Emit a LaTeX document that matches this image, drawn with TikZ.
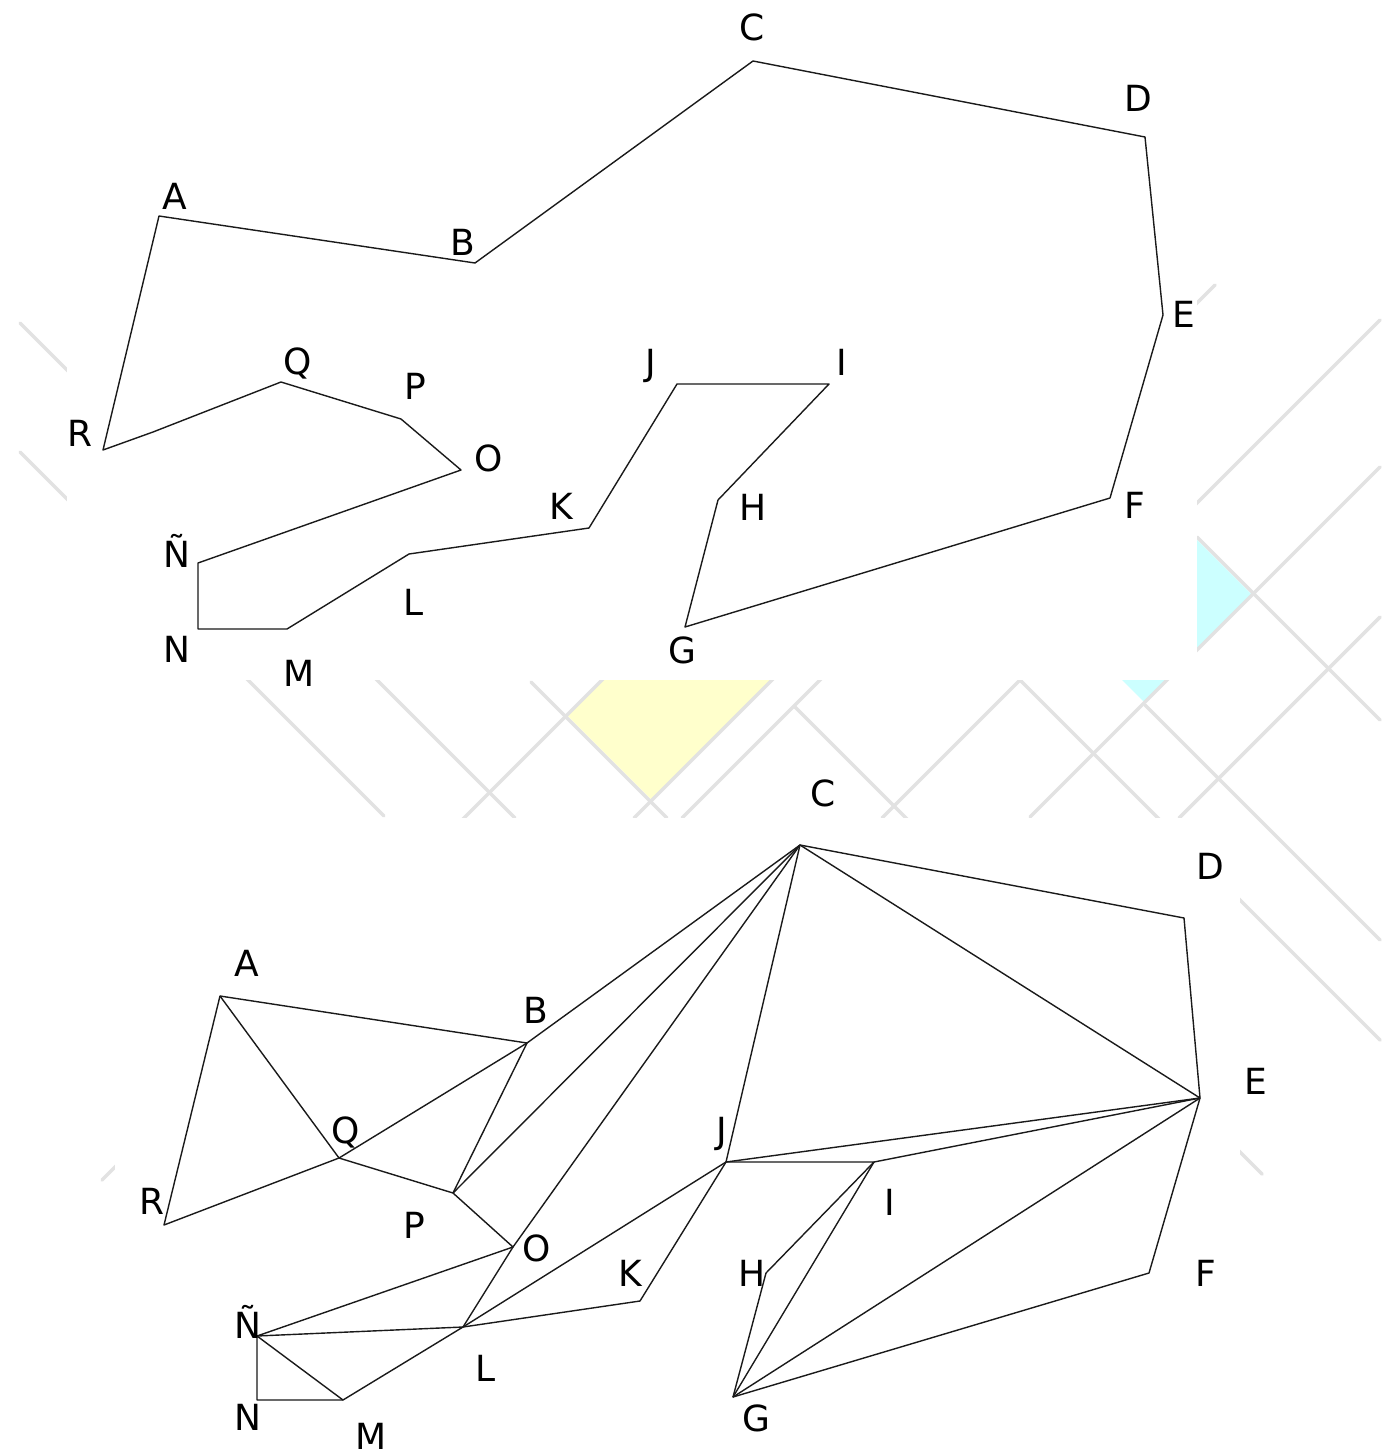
\documentclass[tikz,border=0pt]{standalone}
\usepackage{fontspec}
\setmainfont{DejaVu Sans}
\newfontfamily\lblfam{DejaVu Sans}
\newcommand{\lblfont}{\lblfam\fontsize{36}{40}\selectfont}
\definecolor{bgyel}{HTML}{FFFFCC}
\definecolor{bgcyan}{HTML}{CCFFFF}
\definecolor{bggray}{HTML}{E2E2E2}
\definecolor{inkc}{HTML}{1A1A1A}
\tikzset{
  lbl/.style={font=\lblfont, inner sep=0pt, text height=26pt, text depth=0pt},
  poly/.style={line width=1.4pt, draw=inkc, line join=round},
  bgline/.style={line width=3.5pt, draw=bggray, line cap=round},
  panel/.style={fill=white, draw=none}
}
\begin{document}
\begin{tikzpicture}[x=1pt,y=-1pt]
\useasboundingbox (0,0) rectangle (1397,1456);
\fill[white] (0,0) rectangle (1397,1456);
% background colour patches
\fill[bgcyan] (1252,595) -- (1144.5,702.5) -- (1021,579) -- (1128.5,471.5) -- cycle;
\fill[bgyel] (567,715) -- (652,800) -- (826,626) -- (741,541) -- cycle;
% background lattice lines (x-y = const)
\draw[bgline] (20,452) -- (384,816);
\draw[bgline] (20,323) -- (515,818);
\draw[bgline] (531,682) -- (667,818);
\draw[bgline] (795,707) -- (1262,1174);
\draw[bgline] (1020,680) -- (1380,1040);
\draw[bgline] (1145,705) -- (1380,940);
\draw[bgline] (1197,537) -- (1380,720);
% background lattice lines (x+y = const)
\draw[bgline] (610,672) -- (102,1180);
\draw[bgline] (780,672) -- (634,818);
\draw[bgline] (1215,285) -- (682,818);
\draw[bgline] (1380,320) -- (882,818);
\draw[bgline] (1380,467) -- (1030,817);
\draw[bgline] (1380,617) -- (1179,818);
% white panels
\fill[panel] (67,0) rectangle (1197,680);
\fill[panel] (115,818) rectangle (1240,1456);

% ---------- top polygon ----------
\coordinate (tA) at (159,216);
\coordinate (tB) at (475,263);
\coordinate (tC) at (753,61);
\coordinate (tD) at (1145,137);
\coordinate (tE) at (1163,315);
\coordinate (tF) at (1110,498);
\coordinate (tG) at (685,627);
\coordinate (tH) at (718,500);
\coordinate (tI) at (829,384);
\coordinate (tJ) at (677,384);
\coordinate (tK) at (589,528);
\coordinate (tL) at (409,554);
\coordinate (tM) at (287,629);
\coordinate (tN) at (198,629);
\coordinate (tNn) at (198,563);
\coordinate (tO) at (461,470);
\coordinate (tP) at (401,419);
\coordinate (tQ) at (281,382);
\coordinate (tRQ) at (153,432);
\coordinate (tR) at (103,450);
\draw[poly] (tA) -- (tB) -- (tC) -- (tD) -- (tE) -- (tF) -- (tG) -- (tH) -- (tI) -- (tJ) -- (tK) -- (tL) -- (tM) -- (tN) -- (tNn) -- (tO) -- (tP) -- (tQ) -- (tRQ) -- (tR) -- cycle;

\node[lbl] (ltA) at (175,196) {A};
\node[lbl] (ltB) at (463,242) {B};
\node[lbl] (ltC) at (752,27) {C};
\node[lbl] (ltD) at (1138,98) {D};
\node[lbl] (ltE) at (1184,314) {E};
\node[lbl] (ltF) at (1135,505) {F};
\node[lbl] (ltG) at (682,650) {G};
\node[lbl] (ltH) at (753,507) {H};
\node[lbl] (ltI) at (842,362) {I};
\node[lbl] (ltJ) at (651,362) {J};
\node[lbl] (ltK) at (561,506) {K};
\node[lbl] (ltL) at (414,602) {L};
\node[lbl] (ltM) at (299,673) {M};
\node[lbl] (ltN) at (177,649) {N};
\node[lbl] (ltNn) at (177,554) {Ñ};
\node[lbl] (ltO) at (489,458) {O};
\node[lbl] (ltP) at (415,386) {P};
\node[lbl] (ltQ) at (298,361) {Q};
\node[lbl] (ltR) at (80,433) {R};

% ---------- bottom polygon ----------
\coordinate (bA) at (220,996);
\coordinate (bB) at (527,1043);
\coordinate (bC) at (800,845);
\coordinate (bD) at (1184,918);
\coordinate (bE) at (1200,1098);
\coordinate (bF) at (1149,1273);
\coordinate (bG) at (733,1397);
\coordinate (bH) at (766,1273);
\coordinate (bI) at (874,1162);
\coordinate (bJ) at (726,1162);
\coordinate (bK) at (640,1301);
\coordinate (bL) at (463,1327);
\coordinate (bM) at (343,1400);
\coordinate (bN) at (257,1400);
\coordinate (bNn) at (257,1336);
\coordinate (bO) at (513,1247);
\coordinate (bP) at (453,1193);
\coordinate (bQ) at (339,1158);
\coordinate (bR) at (164,1225);
\draw[poly] (bA) -- (bB) -- (bC) -- (bD) -- (bE) -- (bF) -- (bG) -- (bH) -- (bI) -- (bJ) -- (bK) -- (bL) -- (bM) -- (bN) -- (bNn) -- (bO) -- (bP) -- (bQ) -- (bR) -- cycle;
% diagonals
\draw[poly] (bA) -- (bQ);
\draw[poly] (bQ) -- (bB);
\draw[poly] (bB) -- (bP);
\draw[poly] (bP) -- (bC);
\draw[poly] (bC) -- (bO);
\draw[poly] (bO) -- (bL);
\draw[poly] (bNn) -- (bL);
\draw[poly] (bNn) -- (bM);
\draw[poly] (bL) -- (bJ);
\draw[poly] (bC) -- (bJ);
\draw[poly] (bC) -- (bE);
\draw[poly] (bJ) -- (bE);
\draw[poly] (bI) -- (bE);
\draw[poly] (bG) -- (bE);
\draw[poly] (bG) -- (bI);

\node[lbl] (lbA) at (247,963) {A};
\node[lbl] (lbB) at (536,1010) {B};
\node[lbl] (lbC) at (823,793) {C};
\node[lbl] (lbD) at (1210,866) {D};
\node[lbl] (lbE) at (1256,1081) {E};
\node[lbl] (lbF) at (1206,1273) {F};
\node[lbl] (lbG) at (756,1418) {G};
\node[lbl] (lbH) at (752,1273) {H};
\node[lbl] (lbI) at (890,1202) {I};
\node[lbl] (lbJ) at (722,1130) {J};
\node[lbl] (lbK) at (630,1273) {K};
\node[lbl] (lbL) at (486,1368) {L};
\node[lbl] (lbM) at (371,1436) {M};
\node[lbl] (lbN) at (248,1417) {N};
\node[lbl] (lbNn) at (248,1325) {Ñ};
\node[lbl] (lbO) at (537,1248) {O};
\node[lbl] (lbP) at (414,1225) {P};
\node[lbl] (lbQ) at (346,1130) {Q};
\node[lbl] (lbR) at (152,1201) {R};
\end{tikzpicture}
\end{document}
